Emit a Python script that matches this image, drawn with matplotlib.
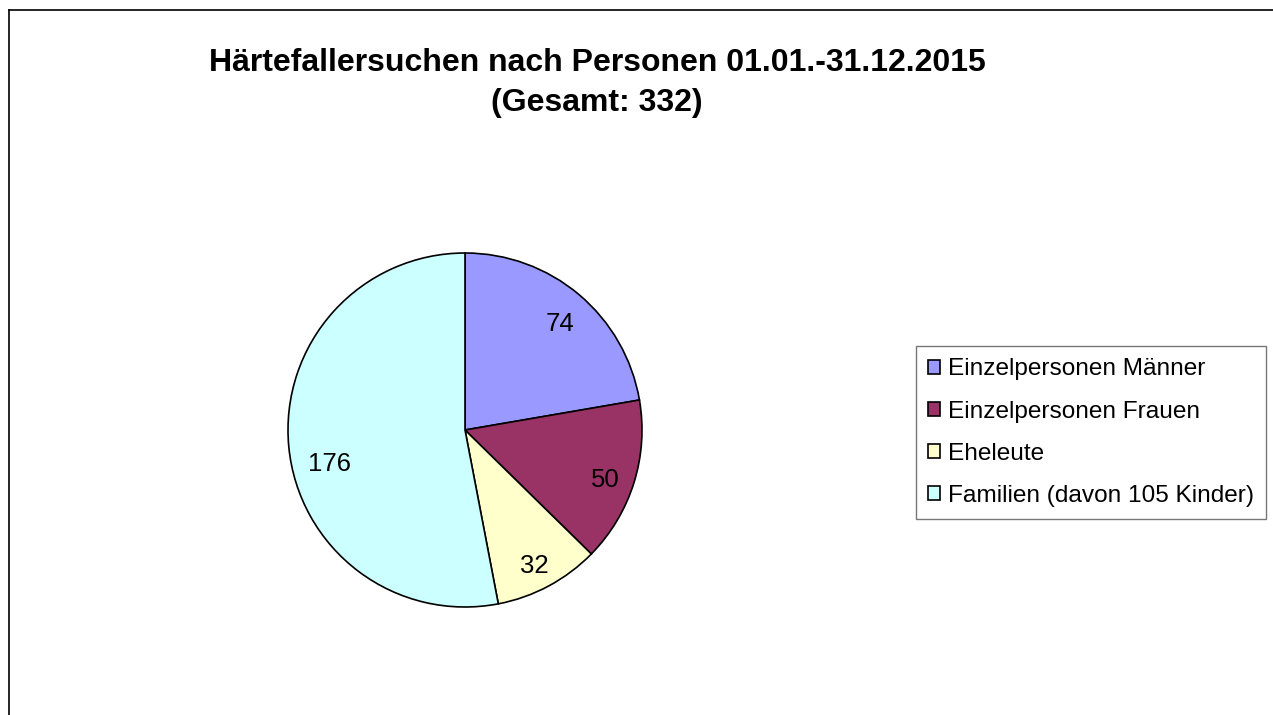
import numpy as np
import matplotlib.pyplot as plt
from matplotlib.lines import Line2D
from matplotlib.patches import Patch

plt.rcParams['font.family'] = ['Liberation Sans', 'DejaVu Sans']

categories = ['Einzelpersonen Männer', 'Einzelpersonen Frauen', 'Eheleute',
              'Familien (davon 105 Kinder)']
values = [74, 50, 32, 176]
colors = ['#9999FF', '#993366', '#FFFFCC', '#CCFFFF']
title_text = 'Härtefallersuchen nach Personen 01.01.-31.12.2015\n(Gesamt: 332)'

W, H = 1273, 715
fig = plt.figure(figsize=(W / 100, H / 100), dpi=100)
fig.patch.set_facecolor('white')

# outer chart border (only left and top visible in the original)
fig.add_artist(Line2D([9 / W, 9 / W], [0, 1 - 10 / H], transform=fig.transFigure,
                      color='black', linewidth=1.2))
fig.add_artist(Line2D([9 / W, 1], [1 - 10 / H, 1 - 10 / H], transform=fig.transFigure,
                      color='black', linewidth=1.2))

fig.text(597 / W, 1 - 83 / H, title_text, ha='center', va='center',
         fontsize=23, fontweight='bold', linespacing=1.4)

# pie axes: centre (465, 430) px, radius 177 px
cx, cy, r = 465, 430, 177
ax = fig.add_axes([(cx - r) / W, (H - cy - r) / H, 2 * r / W, 2 * r / H])
wedges, _ = ax.pie(values, colors=colors, startangle=90, counterclock=False,
                   wedgeprops=dict(edgecolor='black', linewidth=1.2))
ax.set_xlim(-1, 1)
ax.set_ylim(-1, 1)
ax.set_aspect('equal')
ax.axis('off')

# value labels inside the slices
for i, (w, v) in enumerate(zip(wedges, values)):
    ang = np.deg2rad((w.theta1 + w.theta2) / 2)
    d = 0.83
    dy = -0.035
    if i == 3:
        ang = np.deg2rad(194)
        d = 0.79
        dy = 0
    ax.text(d * np.cos(ang), d * np.sin(ang) + dy, str(v), ha='center', va='center',
            fontsize=18.5)

handles = [Patch(facecolor=c, edgecolor='black', linewidth=1.2) for c in colors]
leg = fig.legend(handles, categories, loc='upper left',
                 bbox_to_anchor=(916 / W, 1 - 346 / H), fontsize=17.6,
                 frameon=True, fancybox=False, handlelength=0.5, handleheight=0.5,
                 handletextpad=0.3, labelspacing=0.83, borderpad=0.5,
                 borderaxespad=0)
leg.get_frame().set_edgecolor('#555555')
leg.get_frame().set_linewidth(1.0)

fig.savefig('out.png', dpi=100, facecolor='white')
